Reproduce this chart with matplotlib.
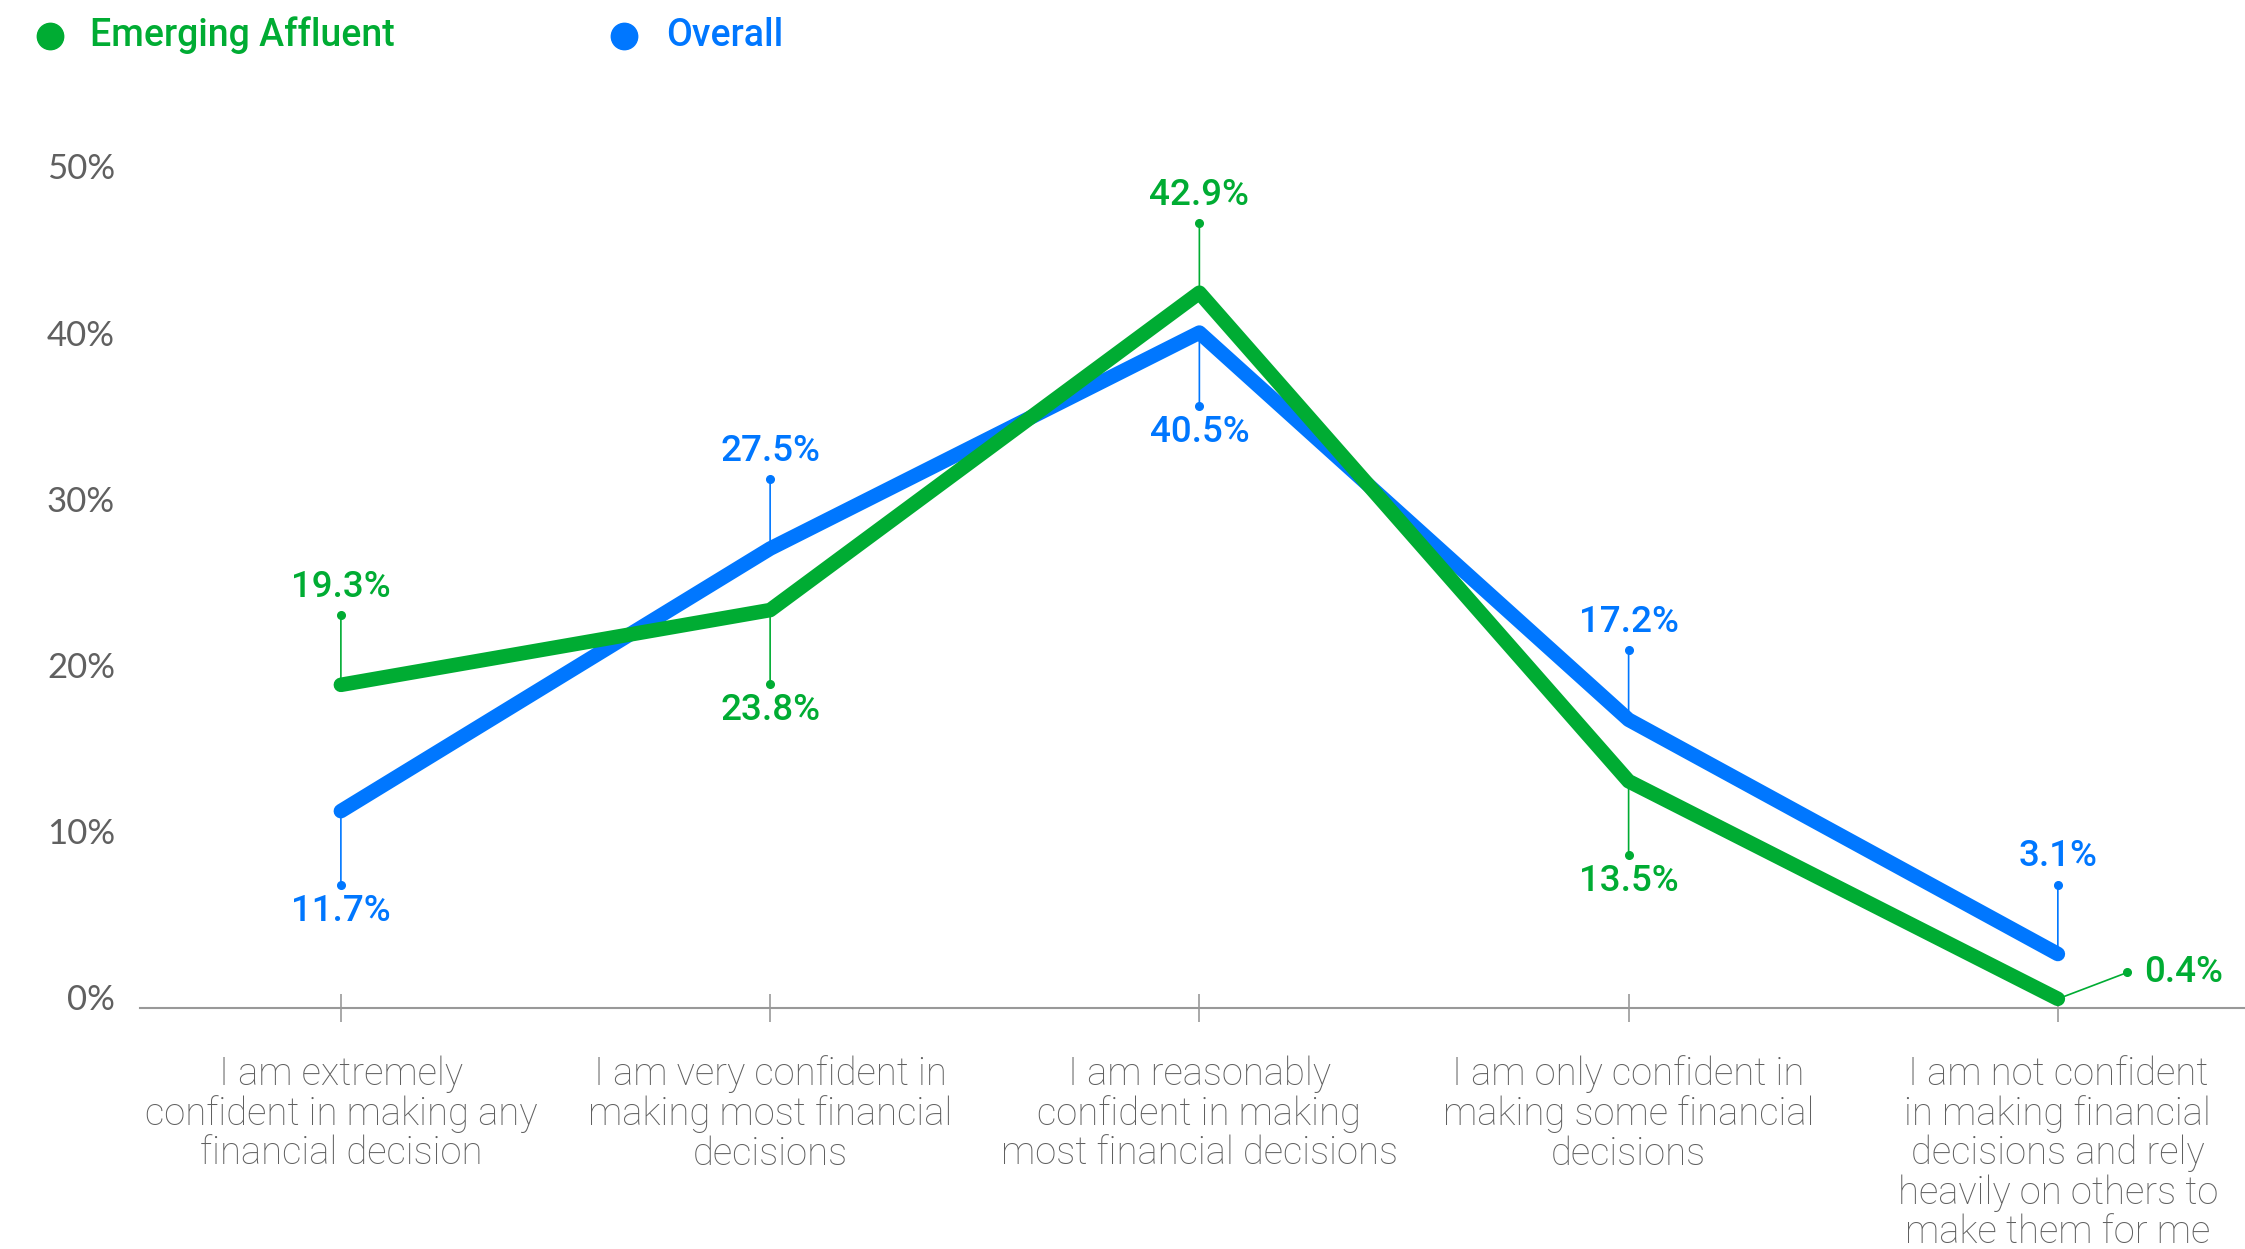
import matplotlib
matplotlib.use("Agg")
import matplotlib.pyplot as plt
from matplotlib.lines import Line2D
from matplotlib.transforms import offset_copy, ScaledTranslation

# data
categories = [
    "I am extremely\nconfident in making any\nfinancial decision",
    "I am very confident in\nmaking most financial\ndecisions",
    "I am reasonably\nconfident in making\nmost financial decisions",
    "I am only confident in\nmaking some financial\ndecisions",
    "I am not confident\nin making financial\ndecisions and rely\nheavily on others to\nmake them for me",
]
emerging = [19.3, 23.8, 42.9, 13.5, 0.4]
overall = [11.7, 27.5, 40.5, 17.2, 3.1]
yticks = [0, 10, 20, 30, 40, 50]

GREEN = "#00AC33"
BLUE = "#0077FF"
GRAY = "#606060"

fig = plt.figure(figsize=(22.45, 12.49), dpi=100)
ax = fig.add_axes([140 / 2245, (1249 - 1008) / 1249, 1 - 140 / 2245, (1008 - 100) / 1249])
ax.set_xlim(-0.468, 4.436)
ax.set_ylim(-0.15, 54.5)

x = list(range(len(categories)))
ax.plot(x, emerging, color=GREEN, lw=10.5, solid_capstyle="round",
        solid_joinstyle="round", zorder=5)
ax.plot(x, overall, color=BLUE, lw=10.5, solid_capstyle="round",
        solid_joinstyle="round", zorder=4)

# value labels: which side the leader goes
placement_em = ["up", "down", "up", "down", "right"]
placement_ov = ["down", "up", "down", "up", "up"]


def leader(xi, v, color, where):
    if where == "up":
        dx, dy, tx, ty, ha = 0, 50, 0, 70, "center"
    elif where == "down":
        dx, dy, tx, ty, ha = 0, -53, 0, -72, "center"
    else:
        dx, dy, tx, ty, ha = 50, 19, 62, 19, "left"
    ax.annotate("", xy=(xi, v), xytext=(dx, dy), textcoords="offset points",
                arrowprops=dict(arrowstyle="-", color=color, lw=1.2,
                                shrinkA=0, shrinkB=0), zorder=2)
    tr = offset_copy(ax.transData, fig=fig, x=dx, y=dy, units="points")
    ax.plot([xi], [v], "o", color=color, ms=5.5, transform=tr, zorder=3,
            clip_on=False)
    ax.annotate(f"{v}%", xy=(xi, v), xytext=(tx, ty), textcoords="offset points",
                ha=ha, va="center", color=color, fontsize=26.5, family="Roboto",
                fontweight="medium", annotation_clip=False)


for i in x:
    leader(i, emerging[i], GREEN, placement_em[i])
    leader(i, overall[i], BLUE, placement_ov[i])

# axes styling
for s in ["top", "right", "left"]:
    ax.spines[s].set_visible(False)
ax.spines["bottom"].set_color("#999999")
ax.spines["bottom"].set_linewidth(1.5)
ax.spines["bottom"].set_position(("data", -0.15))

ax.set_xticks(x)
ax.set_xticklabels([])
ax.tick_params(axis="x", direction="inout", length=20, width=1.2, color="#999999")

for i, c in enumerate(categories):
    ax.annotate(c, xy=(i, 0), xycoords=("data", "axes fraction"),
                xytext=(0, -34), textcoords="offset points", ha="center", va="top",
                fontsize=27.5, family="Roboto", fontweight="light", color=GRAY,
                linespacing=1.07, annotation_clip=False)

ax.set_yticks(yticks)
ax.set_yticklabels([f"{t}%" for t in yticks], fontsize=25, family="Lato", color=GRAY)
ax.tick_params(axis="y", length=0, pad=18)
for lab in ax.get_yticklabels():
    lab.set_transform(lab.get_transform() + ScaledTranslation(0, 6 / 72, fig.dpi_scale_trans))

# legend
for mx, tx, name, col in [(50, 90, "Emerging Affluent", GREEN), (624, 666, "Overall", BLUE)]:
    fig.add_artist(Line2D([mx / 2245], [1 - 36 / 1249], marker="o", ms=19, color=col,
                          lw=0, transform=fig.transFigure))
    fig.text(tx / 2245, 1 - 35 / 1249, name, color=col, fontsize=27, family="Roboto",
             fontweight="medium", va="center", ha="left")

fig.savefig("out.png", dpi=100)
